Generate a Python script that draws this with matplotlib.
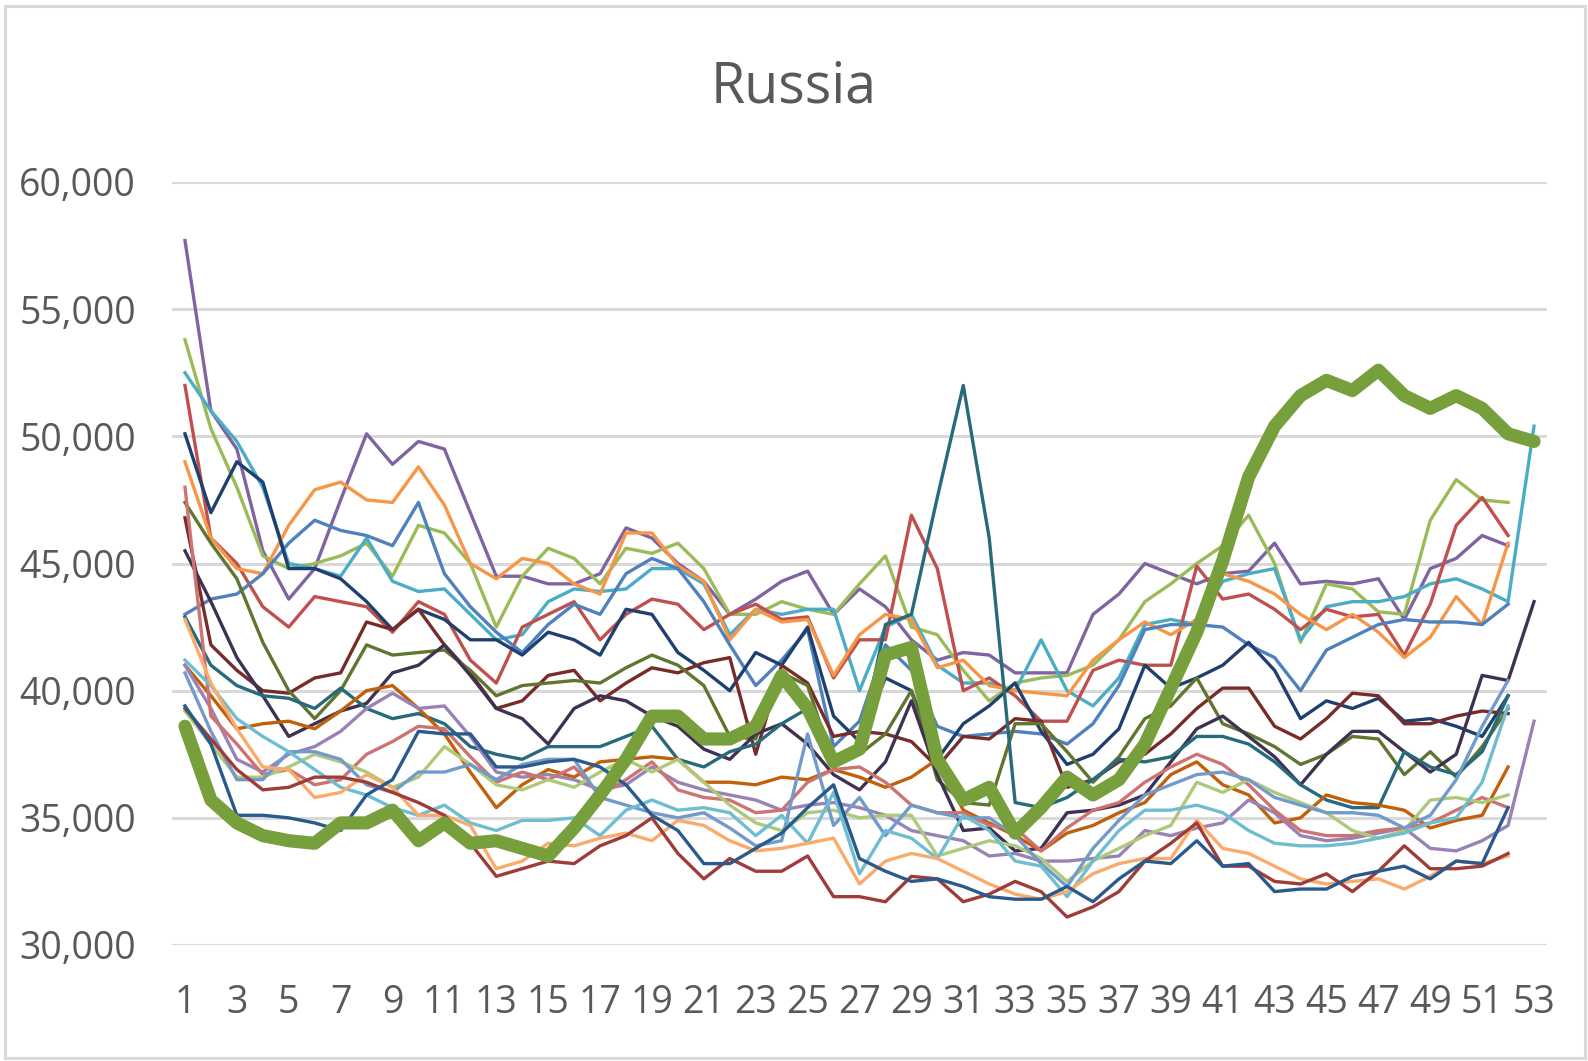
import numpy as np
import matplotlib
matplotlib.use("Agg")
import matplotlib.pyplot as plt
from matplotlib.ticker import FuncFormatter
from matplotlib.patches import Rectangle

N = np.nan
weeks = list(range(1, 54))
x_labels = [str(w) if w % 2 == 1 else "" for w in weeks]
y_ticks = [30000, 35000, 40000, 45000, 50000, 55000, 60000]
title = "Russia"

# weekly deaths, thousands (earlier years, thin lines)
s_a = [57.7, 51.0, 49.5, 45.5, 43.6, 44.8, 47.5, 50.1, 48.9, 49.8, 49.5, 47.0, 44.5, 44.5, 44.2, 44.2, 44.6, 46.4, 46.0, 45.0, 44.3, 43.0, 43.6, 44.3, 44.7, 43.0, 44.0, 43.3, 42.0, 41.2, 41.5, 41.4, 40.7, 40.7, 40.7, 43.0, 43.8, 45.0, 44.6, 44.2, 44.6, 44.7, 45.8, 44.2, 44.3, 44.2, 44.4, 42.8, 44.8, 45.2, 46.1, 45.7, N]
s_b = [53.8, 50.3, 48.0, 45.3, 44.8, 45.0, 45.3, 45.8, 44.5, 46.5, 46.2, 45.0, 42.5, 44.5, 45.6, 45.2, 44.2, 45.6, 45.4, 45.8, 44.8, 43.0, 43.0, 43.5, 43.2, 43.0, 44.2, 45.3, 42.5, 42.2, 40.8, 39.6, 40.3, 40.5, 40.6, 41.0, 42.0, 43.5, 44.2, 45.0, 45.7, 46.9, 45.0, 41.9, 44.2, 44.0, 43.1, 43.0, 46.7, 48.3, 47.5, 47.4, N]
s_c = [52.5, 51.0, 49.8, 48.0, 45.0, 44.8, 44.5, 46.0, 44.3, 43.9, 44.0, 43.0, 42.0, 42.2, 43.5, 44.0, 43.9, 44.0, 44.8, 44.8, 44.2, 42.2, 43.2, 43.0, 43.2, 43.2, 40.0, 42.5, 43.0, 41.0, 40.3, 40.3, 40.0, 42.0, 40.0, 39.4, 40.5, 42.6, 42.8, 42.6, 44.3, 44.6, 44.8, 42.0, 43.3, 43.5, 43.5, 43.7, 44.2, 44.4, 44.0, 43.5, 50.4]
s_d = [52.0, 46.0, 45.0, 43.3, 42.5, 43.7, 43.5, 43.3, 42.3, 43.5, 43.0, 41.2, 40.3, 42.5, 43.0, 43.5, 42.0, 43.0, 43.6, 43.4, 42.4, 43.0, 43.4, 42.8, 42.9, 40.5, 42.0, 42.0, 46.9, 44.8, 40.0, 40.5, 39.8, 38.8, 38.8, 40.8, 41.2, 41.0, 41.0, 44.9, 43.6, 43.8, 43.2, 42.4, 43.2, 42.9, 43.0, 41.4, 43.4, 46.5, 47.6, 46.1, N]
s_e = [49.0, 46.0, 44.8, 44.6, 46.5, 47.9, 48.2, 47.5, 47.4, 48.8, 47.3, 45.0, 44.4, 45.2, 45.0, 44.2, 43.8, 46.2, 46.2, 44.9, 44.3, 42.0, 43.2, 42.7, 42.8, 40.6, 42.2, 43.0, 42.8, 40.9, 41.2, 40.2, 40.0, 39.9, 39.8, 41.2, 42.0, 42.7, 42.2, 42.8, 44.6, 44.3, 43.8, 43.0, 42.4, 43.0, 42.3, 41.3, 42.1, 43.7, 42.6, 45.8, N]
s_f = [43.0, 43.6, 43.8, 44.6, 45.8, 46.7, 46.3, 46.1, 45.7, 47.4, 44.6, 43.3, 42.3, 41.5, 42.6, 43.4, 43.0, 44.6, 45.2, 44.8, 43.5, 41.8, 40.2, 41.2, 42.4, 37.8, 38.8, 41.8, 40.8, 38.6, 38.2, 38.3, 38.4, 38.3, 37.9, 38.7, 40.2, 42.4, 42.6, 42.6, 42.5, 41.8, 41.3, 40.0, 41.6, 42.1, 42.6, 42.8, 42.7, 42.7, 42.6, 43.4, N]
s_g = [50.1, 47.0, 49.0, 48.2, 44.8, 44.8, 44.4, 43.5, 42.4, 43.2, 42.8, 42.0, 42.0, 41.4, 42.3, 42.0, 41.4, 43.2, 43.0, 41.5, 40.8, 40.0, 41.5, 41.0, 42.5, 39.0, 38.0, 40.5, 40.0, 37.3, 38.7, 39.4, 40.3, 38.4, 37.1, 37.5, 38.5, 41.0, 40.1, 40.5, 41.0, 41.9, 40.8, 38.9, 39.6, 39.3, 39.7, 38.8, 38.9, 38.6, 38.2, 39.8, N]
s_h = [46.8, 41.8, 40.8, 40.0, 39.9, 40.5, 40.7, 42.7, 42.4, 43.2, 41.8, 40.7, 39.3, 39.6, 40.6, 40.8, 39.6, 40.3, 40.9, 40.7, 41.1, 41.3, 37.5, 41.0, 40.3, 38.2, 38.4, 38.3, 38.0, 37.0, 38.2, 38.1, 38.9, 38.8, 36.2, 36.5, 37.2, 37.5, 38.3, 39.3, 40.1, 40.1, 38.6, 38.1, 38.9, 39.9, 39.8, 38.7, 38.7, 39.0, 39.2, 39.1, N]
s_i = [47.4, 45.8, 44.4, 41.9, 40.0, 38.9, 40.0, 41.8, 41.4, 41.5, 41.6, 40.8, 39.8, 40.2, 40.3, 40.4, 40.3, 40.9, 41.4, 41.0, 40.2, 38.2, 38.1, 40.7, 40.2, 37.1, 37.5, 38.3, 40.0, 36.5, 35.6, 35.5, 38.7, 38.7, 37.6, 36.4, 37.4, 38.9, 39.4, 40.5, 38.7, 38.3, 37.8, 37.1, 37.5, 38.2, 38.1, 36.7, 37.6, 36.6, 37.8, 39.3, N]
s_j = [45.5, 43.5, 41.3, 39.8, 38.2, 38.7, 39.2, 39.5, 40.7, 41.0, 41.8, 40.6, 39.3, 38.9, 37.9, 39.3, 39.8, 39.6, 39.0, 38.6, 37.7, 37.3, 38.3, 38.7, 37.9, 36.7, 36.1, 37.2, 39.6, 36.7, 34.5, 34.6, 33.7, 33.8, 35.2, 35.3, 35.5, 35.9, 37.2, 38.5, 39.0, 38.2, 37.4, 36.3, 37.5, 38.4, 38.4, 37.6, 36.8, 37.5, 40.6, 40.4, 43.5]
s_k = [42.9, 41.0, 40.2, 39.8, 39.7, 39.3, 40.1, 39.3, 38.9, 39.1, 38.7, 37.8, 37.5, 37.3, 37.8, 37.8, 37.8, 38.2, 38.6, 37.3, 37.0, 37.6, 37.9, 38.7, 39.3, 37.3, 37.8, 42.6, 43.0, 47.6, 52.0, 46.0, 35.6, 35.4, 35.8, 36.5, 37.3, 37.2, 37.4, 38.2, 38.2, 37.9, 37.2, 36.3, 35.7, 35.4, 35.4, 37.6, 37.0, 36.7, 37.6, 39.8, N]
s_l = [41.0, 39.8, 38.5, 38.7, 38.8, 38.5, 39.2, 40.0, 40.2, 39.3, 38.3, 36.8, 35.4, 36.3, 36.9, 36.6, 37.2, 37.3, 37.4, 37.3, 36.4, 36.4, 36.3, 36.6, 36.5, 36.9, 36.6, 36.2, 36.6, 37.3, 35.3, 34.8, 34.3, 33.7, 34.4, 34.7, 35.2, 35.6, 36.7, 37.2, 36.3, 35.9, 34.8, 35.0, 35.9, 35.6, 35.5, 35.3, 34.6, 34.9, 35.1, 37.0, N]
s_m = [41.0, 39.3, 37.3, 36.8, 37.5, 37.8, 38.4, 39.3, 39.9, 39.3, 39.4, 38.2, 36.8, 36.6, 36.7, 36.5, 36.1, 36.3, 37.0, 36.4, 36.1, 35.9, 35.7, 35.3, 35.5, 35.6, 35.4, 35.1, 34.5, 34.3, 34.1, 33.5, 33.6, 33.3, 33.3, 33.4, 33.5, 34.5, 34.3, 34.6, 34.8, 35.7, 35.2, 34.3, 34.1, 34.2, 34.4, 34.6, 33.8, 33.7, 34.1, 34.7, 38.8]
s_n = [48.0, 39.0, 37.9, 36.7, 36.9, 36.3, 36.5, 37.5, 38.0, 38.6, 38.5, 37.4, 36.4, 36.8, 36.5, 37.0, 35.9, 36.5, 37.2, 36.1, 35.8, 35.7, 35.2, 35.3, 36.4, 36.9, 37.0, 36.4, 35.5, 35.2, 35.2, 34.7, 34.6, 33.7, 34.6, 35.3, 35.6, 36.4, 37.0, 37.5, 37.1, 36.3, 35.3, 34.5, 34.3, 34.3, 34.5, 34.6, 34.8, 35.3, 35.8, 35.4, N]
s_o = [39.2, 37.9, 36.6, 36.6, 37.0, 37.5, 37.2, 36.8, 36.2, 36.6, 37.8, 37.1, 36.3, 36.1, 36.5, 36.2, 36.8, 37.3, 36.8, 37.3, 36.4, 35.5, 34.8, 34.5, 35.2, 35.3, 35.0, 35.1, 35.1, 33.5, 33.8, 34.1, 33.9, 33.4, 32.5, 33.3, 33.8, 34.3, 34.7, 36.4, 36.0, 36.5, 36.0, 35.6, 35.2, 34.5, 34.2, 34.5, 35.7, 35.8, 35.6, 35.9, N]
s_p = [40.7, 38.4, 36.5, 36.5, 37.6, 37.6, 37.3, 36.3, 36.0, 36.8, 36.8, 37.1, 36.5, 37.1, 37.3, 37.3, 35.8, 35.5, 35.2, 35.0, 35.2, 34.6, 33.9, 34.1, 38.3, 34.7, 35.8, 34.3, 35.5, 35.2, 35.0, 35.0, 34.3, 33.2, 32.3, 33.8, 34.9, 35.9, 36.3, 36.7, 36.8, 36.5, 35.8, 35.5, 35.2, 35.2, 35.1, 34.6, 35.1, 36.5, 38.6, 40.4, N]
s_q = [41.2, 40.2, 38.9, 38.2, 37.6, 36.9, 36.2, 35.9, 35.4, 35.1, 35.5, 34.8, 34.5, 34.9, 34.9, 35.0, 34.3, 35.3, 35.7, 35.3, 35.4, 35.2, 34.3, 35.1, 34.0, 36.0, 32.8, 34.5, 34.2, 33.4, 35.1, 34.5, 33.3, 33.1, 31.9, 33.3, 34.5, 35.3, 35.3, 35.5, 35.2, 34.5, 34.0, 33.9, 33.9, 34.0, 34.2, 34.4, 34.8, 35.0, 36.4, 39.4, N]
s_r = [42.8, 40.3, 38.5, 37.0, 36.9, 35.8, 36.0, 36.7, 36.2, 35.1, 35.1, 34.7, 33.0, 33.3, 34.0, 33.9, 34.2, 34.4, 34.1, 34.9, 34.7, 34.1, 33.7, 33.8, 34.0, 34.2, 32.4, 33.3, 33.6, 33.4, 32.9, 32.4, 32.0, 31.8, 32.1, 32.8, 33.2, 33.4, 33.4, 34.9, 33.8, 33.6, 33.1, 32.6, 32.4, 32.5, 32.6, 32.2, 32.7, 33.3, 33.2, 33.5, N]
s_s = [39.3, 38.1, 36.9, 36.1, 36.2, 36.6, 36.6, 36.4, 36.0, 35.6, 35.1, 34.0, 32.7, 33.0, 33.3, 33.2, 33.9, 34.3, 35.0, 33.6, 32.6, 33.4, 32.9, 32.9, 33.5, 31.9, 31.9, 31.7, 32.7, 32.6, 31.7, 32.0, 32.5, 32.1, 31.1, 31.5, 32.1, 33.3, 34.0, 34.8, 33.1, 33.1, 32.5, 32.4, 32.8, 32.1, 32.9, 33.9, 33.0, 33.0, 33.1, 33.6, N]
s_t = [39.4, 37.9, 35.1, 35.1, 35.0, 34.8, 34.5, 35.9, 36.5, 38.4, 38.3, 38.3, 37.0, 37.0, 37.2, 37.3, 37.0, 36.3, 35.1, 34.5, 33.2, 33.2, 33.8, 34.4, 35.4, 36.3, 33.4, 32.9, 32.5, 32.6, 32.3, 31.9, 31.8, 31.8, 32.3, 31.7, 32.6, 33.3, 33.2, 34.1, 33.1, 33.2, 32.1, 32.2, 32.2, 32.7, 32.9, 33.1, 32.6, 33.3, 33.2, 35.4, N]

# highlighted year (thick green)
s_main = [38.6, 35.7, 34.8, 34.3, 34.1, 34.0, 34.8, 34.8, 35.3, 34.1, 34.8, 34.0, 34.1, 33.8, 33.5, 34.6, 35.9, 37.3, 39.0, 39.0, 38.1, 38.1, 38.6, 40.6, 39.3, 37.2, 37.7, 41.4, 41.7, 37.3, 35.7, 36.2, 34.4, 35.4, 36.6, 35.9, 36.5, 37.9, 40.1, 42.3, 45.1, 48.4, 50.4, 51.6, 52.2, 51.8, 52.6, 51.6, 51.1, 51.6, 51.1, 50.1, 49.8]

thin_series = [s_a, s_b, s_c, s_d, s_e, s_f, s_g, s_h, s_i, s_j,
               s_k, s_l, s_m, s_n, s_o, s_p, s_q, s_r, s_s, s_t]
thin_colors = ["#8064A2", "#9BBB59", "#4BACC6", "#C0504D", "#F79646",
               "#4F81BD", "#1F3F6E", "#772C2A", "#5F7530", "#3F3151",
               "#276A7C", "#C0600A", "#9983B5", "#CD7371", "#AFC97A",
               "#729ACA", "#6FBDD1", "#F9AB6B", "#9F3B38", "#2A5A8C"]

plt.rcParams['font.family'] = ['Open Sans', 'DejaVu Sans']
TXT = "#595959"

fig = plt.figure(figsize=(15.88, 10.61), dpi=100)
fig.patch.set_facecolor("white")
ax = fig.add_axes([172/1588, 1 - 945/1061, (1547-172)/1588, (945-182)/1061])

for s, c in zip(thin_series, thin_colors):
    ax.plot(weeks, np.array(s) * 1000, color=c, lw=2.4, solid_joinstyle="round", zorder=3)
ax.plot(weeks, np.array(s_main) * 1000, color="#77A03D", lw=9.5,
        solid_joinstyle="round", solid_capstyle="round", zorder=5)

ax.set_xlim(0.5, 53.5)
ax.set_ylim(30000, 60000)
ax.set_yticks(y_ticks)
ax.yaxis.set_major_formatter(FuncFormatter(lambda v, p: f"{int(v):,}"))
ax.set_xticks(weeks)
ax.set_xticklabels(x_labels)
ax.tick_params(axis="both", length=0, labelsize=27, colors=TXT)
ax.tick_params(axis="y", pad=26)
ax.tick_params(axis="x", pad=28)
ax.grid(axis="y", color="#D9D9D9", lw=2.2, zorder=0)
ax.set_axisbelow(True)
for sp in ax.spines.values():
    sp.set_visible(False)

fig.text(0.5, 1 - 88/1061, title, ha="center", va="center", fontsize=40, color=TXT)

fig.patches.append(Rectangle((5/1588, 3/1061), 1580/1588, 1052/1061, transform=fig.transFigure,
                             fill=False, edgecolor="#D9D9D9", lw=2.2))

fig.savefig("out.png", dpi=100, facecolor="white")
